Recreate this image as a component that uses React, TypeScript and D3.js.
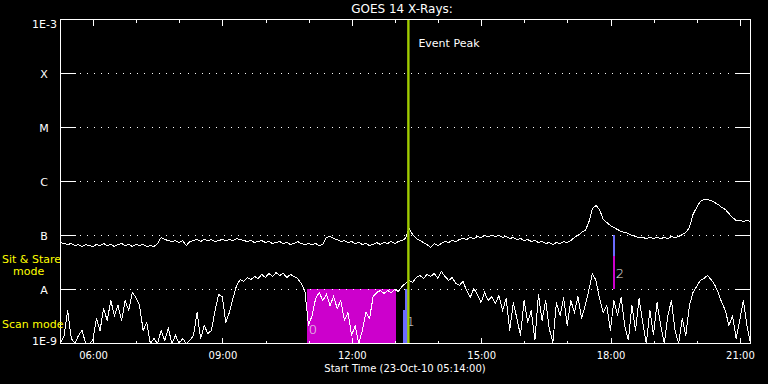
import React, { useLayoutEffect } from "react";
import * as d3 from "d3";

// ---------- data ----------
const startTime = "05:14";
const endTime = "21:14";
const stepMinutes = 5;

// GOES 14 long channel (1-8 Å), units of 1e-8 W/m^2, every 5 min from 05:14
const longFlux = [
  7.41, 7.1, 6.81, 7.1, 6.52, 6.81, 6.25, 6.81, 6.52, 6.25, 6.81, 6.52, 7.1, 6.52, 6.81, 6.25, 6.81, 7.1, 6.52, 6.81,
  6.25, 6.81, 6.52, 6.81, 6.25, 6.52, 6.25, 7.1,
  9.18, 8.43, 8.07, 7.74, 8.07, 7.41, 8.07, 6.52, 7.74, 8.07, 8.43, 7.74, 8.43, 8.07, 8.43, 7.74, 8.07, 8.43, 8.07,
  8.43, 8.07, 8.8, 8.43,
  8.07, 7.74, 8.07, 7.41, 7.74, 8.07, 7.41, 7.74, 7.1, 7.41, 7.74, 7.1, 7.41, 6.81, 7.1, 7.74, 7.1, 6.81, 7.1, 6.81,
  7.1, 6.52, 6.81,
  9.18, 9.58, 8.8, 8.43, 7.74, 8.07, 7.41, 7.74, 7.1, 7.41, 6.81, 7.1, 6.52, 6.81, 7.41, 6.81, 7.41, 7.1, 7.74, 7.1,
  7.74, 8.07, 8.8, 13.5, 10.4, 8.8, 8.07,
  7.41, 6.81, 5.99, 7.1, 6.52, 7.1, 7.74, 7.41, 8.07, 7.74, 8.43, 8.8, 8.43, 9.18, 8.8, 9.58, 9.18, 10, 9.58, 10,
  9.58, 10, 9.18, 9.58, 8.8, 9.18, 8.43, 8.8, 8.07, 8.43, 7.74, 8.07, 7.41, 7.74, 7.1, 7.41, 6.81, 7.41, 7.1, 7.74,
  7.41, 8.07, 9.18, 10, 11.4, 12.4, 17.4, 31.6, 35.9, 30.3,
  19.8, 17.4, 15.3, 14.1, 12.9, 11.9, 11.4, 10.9, 10, 9.58, 9.18, 9.18, 8.8, 9.18, 8.8, 9.18, 8.8, 9.18, 8.8, 9.58,
  9.18, 9.58, 10.4, 11.4, 14.1, 24.5, 33.0, 42.6, 46.4, 46.4, 44.5, 40.8, 37.5, 33.0, 30.3, 25.5, 21.5, 19.0, 19.0,
  18.2, 19.0, 18.2,
];
const longUnit = 1e-8;

// GOES 14 short channel (0.5-4 Å), units of 1e-9 W/m^2, every 5 min from 05:14
const shortFlux = [
  1.0, 1.41, 4.08, 1.24, 1.0, 1.41, 1.74, 1.0, 1.0, 1.14, 2.91, 1.74, 4.45, 2.67, 6.25, 3.3, 5.05, 2.67, 6.25, 4.08,
  8.8, 7.1, 5.05, 1.74, 2.45, 1.0, 1.24, 1.0, 1.74, 1.14, 1.9, 1.0, 1.41, 1.0, 1.24, 1.0, 1.14, 1.41, 3.75, 1.24,
  2.15, 1.53, 1.74, 4.08, 8.07, 7.41, 2.45, 3.75, 6.81, 11.9, 15.3,
  14.1, 16.7, 15.3, 17.4, 16.0, 19.0, 16.7, 19.8, 17.4, 20.6, 18.2, 19.8, 16.7, 19.0, 17.4, 16.0, 12.9, 9.58, 2.15,
  3.3, 6.81, 8.8, 6.25, 8.07, 5.05, 7.41, 4.45, 6.25, 2.67, 3.75, 1.41, 2.15, 1.0, 1.74, 3.75, 2.91, 7.41, 8.8, 9.58,
  8.43, 9.58, 8.8, 10, 9.18, 11.4, 12.9, 14.7, 13.5, 16.7, 18.2,
  16.0, 19.0, 17.4, 19.8, 16.0, 21.5, 17.4, 14.7, 16.7, 12.9, 11.9, 14.1, 9.58, 7.1, 10.4, 8.07, 5.74, 8.8, 6.25,
  7.41, 5.5, 7.74, 4.08, 6.81, 1.74, 5.74, 2.91, 1.41, 6.25, 2.45, 4.08, 1.14, 8.07, 2.67, 6.25, 1.9, 1.04, 5.74,
  3.3, 7.1, 2.15, 6.25, 3.75, 7.41, 2.91, 5.05, 9.58, 19.8, 14.7, 6.81,
  3.75, 5.05, 1.74, 6.25, 3.3, 7.1, 2.15, 1.14, 5.05, 1.74, 6.81, 2.45, 1.0, 4.08, 1.41, 5.74, 2.15, 1.0, 3.3, 6.25,
  1.74, 1.0, 2.91, 1.41, 5.05, 8.8, 11.4, 14.7, 16.0, 18.2, 15.3, 12.4, 8.8, 5.74, 4.08, 2.15, 3.3, 1.24, 2.67,
  6.25, 2.15, 1.0,
];
const shortUnit = 1e-9;

const levelLabels = ["X", "M", "C", "B", "A"];
const levelFlux = [1e-4, 1e-5, 1e-6, 1e-7, 1e-8];
const axisEndLabels = ["1E-3", "1E-9"];
const axisEndFlux = [1e-3, 1e-9];

const hourTicks = [6, 7, 8, 9, 10, 11, 12, 13, 14, 15, 16, 17, 18, 19, 20, 21];
const labeledHours = [6, 9, 12, 15, 18, 21];
const hourLabels = ["06:00", "09:00", "12:00", "15:00", "18:00", "21:00"];

const eventPeakTime = "13:18";

// observation-mode bars
const barStart = ["10:58", "13:11", "13:14", "18:03", "18:03"];
const barEnd = ["13:02", "13:18", "13:18", "18:06", "18:06"];
const barLow = [1e-9, 1e-9, 4.1e-9, 1e-8, 4.1e-8];
const barHigh = [1e-8, 4.1e-9, 1e-8, 4.1e-8, 1e-7];
const barKind = ["scan", "stare", "stare", "scan", "stare"];

const barLabelText = ["0", "1", "2"];
const barLabelTime = ["10:58", "13:14", "18:05"];
const barLabelFlux = [1.5e-9, 2.1e-9, 1.6e-8];

const title = "GOES 14 X-Rays:";
const xTitle = "Start Time (23-Oct-10 05:14:00)";

// ---------- helpers ----------
const toDate = (hm: string) => {
  const [h, m] = hm.split(":").map(Number);
  return new Date(Date.UTC(2010, 9, 23, h, m));
};

const W = 768;
const H = 384;
const L = 60.5;
const R = 750.5;
const T = 19.5;
const B = 343.5;

const FONT = "'DejaVu Sans', sans-serif";

export default function App() {
  useLayoutEffect(() => {
    document.body.style.margin = "0";
    document.body.style.background = "#000";
  }, []);

  const x = d3.scaleUtc().domain([toDate(startTime), toDate(endTime)]).range([L, R]);
  const y = d3.scaleLog().domain([1e-9, 1e-3]).range([B, T]).clamp(true);

  const t0 = toDate(startTime).getTime();
  const timeAt = (i: number) => new Date(t0 + i * stepMinutes * 60000);

  const line = d3
    .line<number>()
    .x((_, i) => x(timeAt(i)))
    .y((v) => y(v));

  const longPath = line(longFlux.map((v) => v * longUnit)) || "";
  const shortPath = line(shortFlux.map((v) => v * shortUnit)) || "";

  const hourDate = (h: number) => new Date(Date.UTC(2010, 9, 23, h, 0));
  const peakX = x(toDate(eventPeakTime));

  const kindColor: Record<string, string> = { scan: "#cc00cc", stare: "#6b6bff" };

  return (
    <svg width={W} height={H} style={{ display: "block", background: "#000" }}>
      <rect x={0} y={0} width={W} height={H} fill="#000" />

      {/* mode bars */}
      {barStart.map((s, i) => {
        const x0 = Math.round(x(toDate(s)) - 0.5);
        const x1 = Math.round(x(toDate(barEnd[i])) - 0.5);
        const yTop = Math.round(y(barHigh[i]) - 0.5);
        const yBot = Math.round(y(barLow[i]) - 0.5);
        return (
          <rect
            key={"bar" + i}
            x={x0}
            y={yTop}
            width={Math.max(2, x1 - x0)}
            height={yBot - yTop}
            fill={kindColor[barKind[i]]}
            shapeRendering="crispEdges"
          />
        );
      })}

      {/* dotted grid at class levels */}
      {levelFlux.map((f, i) => (
        <g key={"lvl" + i} shapeRendering="crispEdges">
          <line x1={L + 19} x2={R - 15} y1={Math.round(y(f) - 0.5) + 0.5} y2={Math.round(y(f) - 0.5) + 0.5} stroke="#fff" strokeWidth={1} strokeDasharray="1 6.2" />
          <line x1={L} x2={L + 15} y1={Math.round(y(f) - 0.5) + 0.5} y2={Math.round(y(f) - 0.5) + 0.5} stroke="#fff" strokeWidth={1} />
          <line x1={R - 15} x2={R} y1={Math.round(y(f) - 0.5) + 0.5} y2={Math.round(y(f) - 0.5) + 0.5} stroke="#fff" strokeWidth={1} />
          <text x={44} y={y(f) + 4} fill="#fff" fontFamily={FONT} fontSize={11} textAnchor="middle">
            {levelLabels[i]}
          </text>
        </g>
      ))}
      {axisEndFlux.map((f, i) => (
        <text key={"end" + i} x={57} y={y(f) + (i === 0 ? 8 : 1)} fill="#fff" fontFamily={FONT} fontSize={11} textAnchor="end">
          {axisEndLabels[i]}
        </text>
      ))}

      {/* time ticks */}
      {hourTicks.map((h) => {
        const px = Math.round(x(hourDate(h)) - 0.5) + 0.5;
        const len = labeledHours.includes(h) ? 6 : 3;
        return (
          <g key={"ht" + h} shapeRendering="crispEdges">
            <line x1={px} x2={px} y1={T} y2={T + len} stroke="#fff" />
            <line x1={px} x2={px} y1={B} y2={B - len} stroke="#fff" />
          </g>
        );
      })}
      {labeledHours.map((h, i) => (
        <text key={"hl" + h} x={x(hourDate(h))} y={359} fill="#fff" fontFamily={FONT} fontSize={10} textAnchor="middle">
          {hourLabels[i]}
        </text>
      ))}

      {/* curves */}
      <path d={longPath} fill="none" stroke="#fff" strokeWidth={1} shapeRendering="crispEdges" />
      <path d={shortPath} fill="none" stroke="#fff" strokeWidth={1} shapeRendering="crispEdges" />

      {/* bar labels */}
      {barLabelText.map((t, i) => (
        <text key={"bl" + i} x={x(toDate(barLabelTime[i])) + 1} y={y(barLabelFlux[i])} fill="#e8e8e8" fontFamily={FONT} fontSize={13} fontWeight={300}>
          {t}
        </text>
      ))}

      {/* event peak */}
      <line x1={peakX} x2={peakX} y1={T} y2={B} stroke="#a0cc00" strokeWidth={2.4} />
      <text x={peakX + 10} y={47} fill="#fff" fontFamily={FONT} fontSize={11}>
        Event Peak
      </text>

      {/* frame */}
      <rect x={L} y={T} width={R - L} height={B - T} fill="none" stroke="#fff" strokeWidth={1} shapeRendering="crispEdges" />

      {/* titles */}
      <text x={402} y={13} fill="#fff" fontFamily={FONT} fontSize={12} textAnchor="middle">
        {title}
      </text>
      <text x={405} y={372} fill="#fff" fontFamily={FONT} fontSize={10} textAnchor="middle">
        {xTitle}
      </text>

      {/* mode labels */}
      <text x={2} y={263} fill="#ffff00" fontFamily={FONT} fontSize={11}>Sit &amp; Stare</text>
      <text x={13} y={275} fill="#ffff00" fontFamily={FONT} fontSize={11}>mode</text>
      <text x={2} y={328} fill="#ffff00" fontFamily={FONT} fontSize={11}>Scan mode</text>
    </svg>
  );
}
